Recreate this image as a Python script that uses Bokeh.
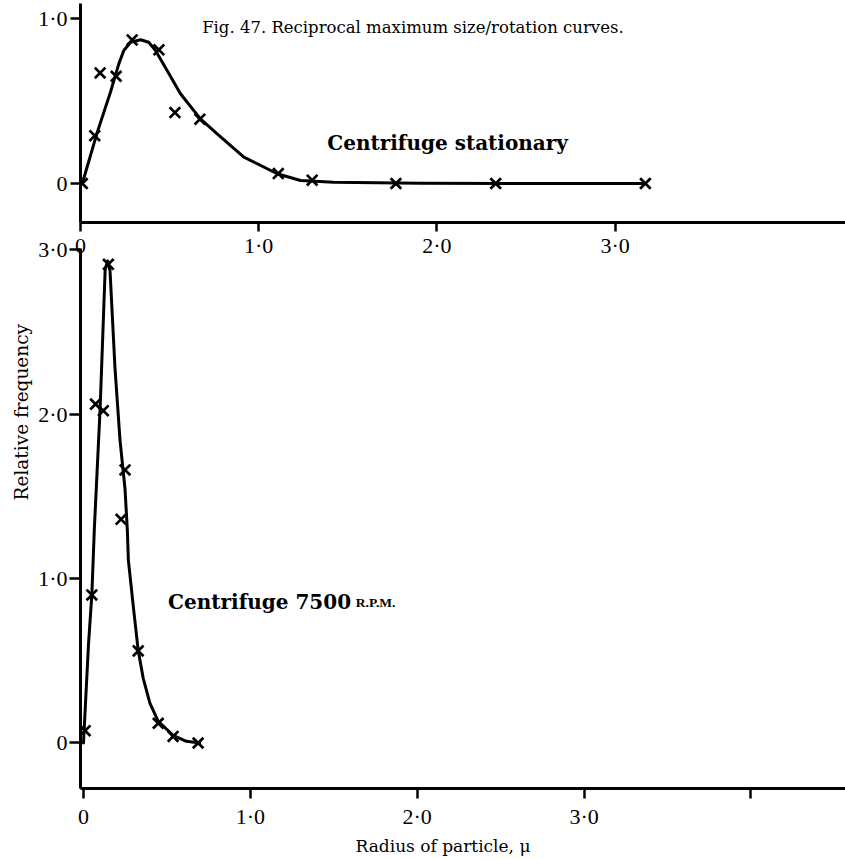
from bokeh.plotting import figure
from bokeh.models import Range1d, FixedTicker, Label, Title
from bokeh.layouts import column
from bokeh.embed import file_html
from bokeh.resources import INLINE

# ---------------- data ----------------
# Upper panel: centrifuge stationary
top_pts_x = [0.01, 0.08, 0.11, 0.20, 0.29, 0.44, 0.53, 0.67, 1.11, 1.30, 1.77, 2.33, 3.17]
top_pts_y = [0.00, 0.29, 0.67, 0.65, 0.87, 0.81, 0.43, 0.39, 0.06, 0.02, 0.00, 0.00, 0.00]
top_curve_x = [0.01, 0.094, 0.168, 0.215, 0.243, 0.281, 0.337, 0.383, 0.421, 0.486,
               0.561, 0.673, 0.767, 0.917, 1.104, 1.235, 1.42, 1.91, 2.5, 3.17]
top_curve_y = [0.0, 0.31, 0.553, 0.725, 0.806, 0.856, 0.871, 0.856, 0.806, 0.685,
               0.544, 0.392, 0.301, 0.16, 0.059, 0.018, 0.008, 0.002, 0.0, 0.0]

# Lower panel: centrifuge 7500 r.p.m.
bot_pts_x = [0.01, 0.05, 0.072, 0.119, 0.149, 0.225, 0.249, 0.328, 0.448, 0.537, 0.687]
bot_pts_y = [0.075, 0.90, 2.06, 2.02, 2.91, 1.36, 1.66, 0.56, 0.12, 0.04, 0.0]
bot_curve_x = [0.0, 0.03, 0.05, 0.065, 0.10, 0.12, 0.13, 0.145, 0.159, 0.189, 0.219,
               0.249, 0.263, 0.269, 0.299, 0.328, 0.358, 0.398, 0.448, 0.537, 0.617, 0.697]
bot_curve_y = [0.0, 0.6, 0.9, 1.3, 2.04, 2.6, 2.88, 2.93, 2.872, 2.276, 1.84,
               1.544, 1.29, 1.112, 0.826, 0.562, 0.393, 0.243, 0.131, 0.047, 0.01, 0.0]

x_ticks = [0, 1, 2, 3]
x_ticks_bottom = [0, 1, 2, 3, 4]
tick_text = {0: "0", 1: "1·0", 2: "2·0", 3: "3·0", 4: ""}
top_y_ticks = [0, 1]
bot_y_ticks = [0, 1, 2, 3]

title_text = "Fig. 47.  Reciprocal maximum size/rotation curves."
label_top = "Centrifuge stationary"
label_bot = "Centrifuge 7500"
label_bot_sc = "R.P.M."
x_title = "Radius of particle, μ"
y_title = "Relative frequency"

TICK_FONT = "Liberation Serif"
SERIF = "DejaVu Serif"


def style(p, xticks, yticks, tick_out_x, tick_out_y, standoff_x, standoff_y):
    p.xgrid.visible = False
    p.ygrid.visible = False
    p.outline_line_color = None
    for ax in p.axis:
        ax.axis_line_width = 3
        ax.axis_line_color = "black"
        ax.major_tick_line_width = 2.5
        ax.major_tick_line_color = "black"
        ax.major_tick_in = 0
        ax.minor_tick_line_color = None
        ax.major_label_text_font = TICK_FONT
        ax.major_label_text_font_size = "22px"
        ax.major_label_text_color = "black"
    p.xaxis.ticker = FixedTicker(ticks=xticks)
    p.yaxis.ticker = FixedTicker(ticks=yticks)
    p.xaxis.major_label_overrides = {t: tick_text[t] for t in xticks}
    p.yaxis.major_label_overrides = {t: tick_text[t] for t in yticks}
    p.xaxis.major_tick_out = tick_out_x
    p.yaxis.major_tick_out = tick_out_y
    p.xaxis.major_label_standoff = standoff_x
    p.yaxis.major_label_standoff = standoff_y


# ---------------- upper panel ----------------
p1 = figure(width=845, height=262,
            x_range=Range1d(0.0, 4.293), y_range=Range1d(-0.2364, 1.0909),
            output_backend="svg", toolbar_location=None,
            min_border_left=80, min_border_right=0, min_border_top=3, min_border_bottom=40)
style(p1, x_ticks, top_y_ticks, 9, 10, 1, 3)

p1.line(top_curve_x, top_curve_y, line_width=3, color="black", line_join="round", line_cap="round")
p1.scatter(top_pts_x, top_pts_y, marker="x", size=15, line_width=2.7, color="black")

p1.add_layout(Label(x=1.88, y=0.945, text=title_text, text_font=SERIF, text_font_size="16.5px",
                    text_align="center", text_baseline="middle", text_color="black"))
p1.add_layout(Label(x=2.06, y=0.248, text=label_top, text_font=SERIF, text_font_size="20px",
                    text_font_style="bold", text_align="center", text_baseline="middle",
                    text_color="black"))

# ---------------- lower panel ----------------
p2 = figure(width=845, height=623,
            x_range=Range1d(-0.0179, 4.567), y_range=Range1d(-0.2766, 3.0061),
            output_backend="svg", toolbar_location=None,
            min_border_left=77, min_border_right=0, min_border_top=12, min_border_bottom=71)
p2.background_fill_color = None
p2.border_fill_color = None
p2.margin = (-26, 0, 0, 0)
style(p2, x_ticks_bottom, bot_y_ticks, 10, 11, 5, 2)

p2.line(bot_curve_x, bot_curve_y, line_width=3, color="black", line_join="round", line_cap="round")
p2.scatter(bot_pts_x, bot_pts_y, marker="x", size=15, line_width=2.7, color="black")

p2.add_layout(Label(x=0.507, y=0.855, text=label_bot, text_font=SERIF, text_font_size="20px",
                    text_font_style="bold", text_align="left", text_baseline="middle",
                    text_color="black"))
p2.add_layout(Label(x=1.632, y=0.855, text=label_bot_sc, text_font="Liberation Serif",
                    text_font_size="13.5px", text_font_style="bold", text_align="left",
                    text_baseline="middle", text_color="black"))

p2.add_layout(Title(text=x_title, align="left", offset=275, text_font=SERIF,
                    text_font_size="17px", text_font_style="normal", text_color="black",
                    vertical_align="bottom", standoff=4), "below")
p2.add_layout(Title(text=y_title, align="left", offset=288, text_font=SERIF,
                    text_font_size="18.5px", text_font_style="normal", text_color="black",
                    vertical_align="top", standoff=4), "left")

layout = column(p1, p2)
open("out.html", "w").write(file_html(layout, INLINE))
